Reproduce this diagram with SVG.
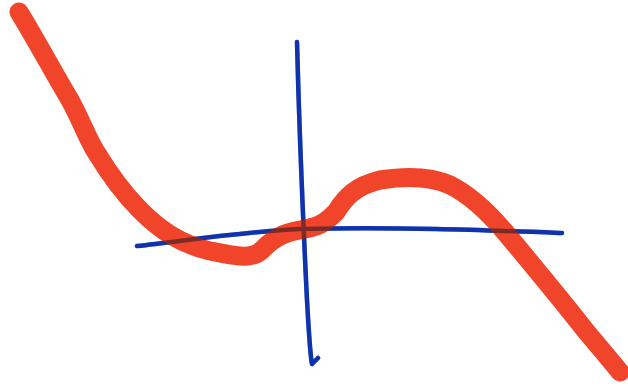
<svg xmlns="http://www.w3.org/2000/svg" width="628" height="387" viewBox="0 0 628 387">
<style>
.blue{fill:none;stroke:#1f4fc4;stroke-width:4.5;stroke-linecap:round;stroke-linejoin:round}
.red{fill:none;stroke:#f0452b;stroke-width:19;stroke-linecap:round;stroke-linejoin:round}
.over{mix-blend-mode:multiply;opacity:0.55}
</style>
<rect width="628" height="387" fill="#ffffff"/>
<g id="axes">
<path id="xaxis" class="blue" d="M137,246 C190,240 250,231 300,229 C400,227 480,230 562,233"/>
<path id="yaxis" class="blue" d="M297,42 C299,120 303,220 307,300 C309,335 310,355 312,364 L318,358"/>
</g>
<g id="curve">
<path class="red" d="M19,12 C35,38 55,75 70,100 C82,122 88,140 96,152 C110,175 122,192 140,210 C160,230 180,244 210,251 C235,256 252,260 262,250 C276,235 288,232 305,229 C322,226 328,220 336,212 C346,196 356,186 380,180 C405,176 430,176 450,185 C470,195 488,212 505,232 C530,262 560,298 585,330 C600,348 612,362 620,372"/>
</g>
<g id="overlap" class="over">
<path class="blue" d="M137,246 C190,240 250,231 300,229 C400,227 480,230 562,233"/>
<path class="blue" d="M297,42 C299,120 303,220 307,300 C309,335 310,355 312,364 L318,358"/>
</g>
</svg>
